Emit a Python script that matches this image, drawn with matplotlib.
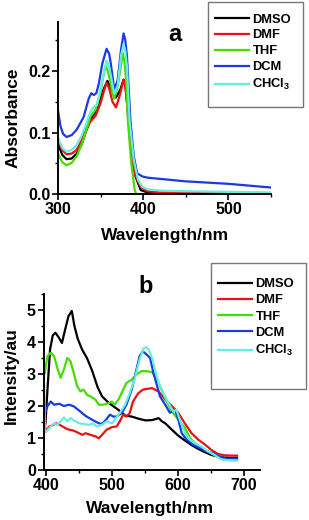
import matplotlib
matplotlib.use("Agg")
import matplotlib.pyplot as plt
from matplotlib.patches import Rectangle
from matplotlib.ticker import MultipleLocator, FormatStrFormatter

plt.rcParams['font.family'] = ['Liberation Sans', 'DejaVu Sans']
plt.rcParams['font.weight'] = 'bold'
plt.rcParams['mathtext.fontset'] = 'custom'
plt.rcParams['mathtext.rm'] = 'Liberation Sans:bold'
plt.rcParams['mathtext.bf'] = 'Liberation Sans:bold'
plt.rcParams['mathtext.it'] = 'Liberation Sans:bold'

solvents = ['DMSO', 'DMF', 'THF', 'DCM', r'CHCl$_3$']
colors = ['#000000', '#ee1111', '#44dd00', '#1a3ae6', '#66eee0']

# ---- panel a: absorbance ----
wl_dmso_a = [300,305,310,316,322,328,332,338,344,350,354,358,361,364,368,373,377,379,382,386,391,397,405,420,450,500,550]
abs_dmso = [0.082,0.064,0.057,0.058,0.066,0.082,0.099,0.12,0.134,0.155,0.172,0.184,0.176,0.163,0.157,0.169,0.186,0.178,0.136,0.072,0.029,0.007,0.003,0.002,0.001,0.001,0.001]
wl_dmf_a = [300,305,310,316,322,328,332,338,344,350,354,357,360,364,368,372,377,379,381,385,390,397,405,420,450,500,550]
abs_dmf = [0.088,0.072,0.065,0.066,0.072,0.088,0.104,0.118,0.127,0.148,0.168,0.181,0.172,0.150,0.141,0.158,0.186,0.175,0.147,0.082,0.034,0.012,0.005,0.003,0.002,0.001,0.001]
wl_thf_a = [300,305,310,316,322,328,332,338,344,350,353,356,359,361,364,366,370,374,376,378,380,382,386,390,393]
abs_thf = [0.066,0.052,0.047,0.051,0.062,0.082,0.098,0.126,0.137,0.166,0.19,0.209,0.198,0.185,0.163,0.155,0.174,0.21,0.229,0.215,0.185,0.12,0.05,0.007,-0.003]
wl_dcm_a = [300,303,306,310,316,322,330,336,339,342,345,348,352,357,360,362,366,370,374,377,379,381,385,389,393,399,405,420,450,500,550]
abs_dcm = [0.136,0.11,0.098,0.093,0.096,0.105,0.125,0.155,0.164,0.161,0.164,0.18,0.212,0.236,0.228,0.212,0.17,0.185,0.235,0.261,0.25,0.223,0.12,0.061,0.034,0.029,0.027,0.025,0.021,0.017,0.011]
wl_chcl3_a = [300,305,310,316,322,328,332,338,342,346,349,352,357,360,362,366,370,374,377,379,381,384,389,394,399,405,420,450,500,550]
abs_chcl3 = [0.093,0.075,0.069,0.072,0.080,0.096,0.11,0.134,0.142,0.145,0.165,0.185,0.217,0.207,0.193,0.163,0.176,0.225,0.244,0.232,0.206,0.12,0.055,0.023,0.012,0.008,0.006,0.005,0.004,0.003]

# ---- panel b: emission ----
wl_dmso_b = [396,399,402,406,410,414,419,424,429,434,439,443,448,455,462,470,478,485,495,505,513,520,530,541,551,561,571,576,581,591,601,611,621,631,641,651,661,671,681,690]
int_dmso = [2.1,1.46,2.5,3.77,4.2,4.29,4.15,3.97,4.4,4.81,4.97,4.5,4.1,3.75,3.5,3.1,2.6,2.3,2.1,1.95,1.83,1.7,1.67,1.6,1.55,1.56,1.62,1.52,1.46,1.26,1.07,0.92,0.78,0.66,0.56,0.47,0.42,0.39,0.38,0.38]
wl_dmf_b = [396,399,405,410,415,420,425,430,435,440,445,450,455,460,467,475,480,485,492,500,507,512,517,522,527,532,540,547,552,561,571,581,591,601,611,621,631,641,651,661,671,683,690]
int_dmf = [2.6,1.2,1.36,1.4,1.46,1.42,1.36,1.3,1.26,1.24,1.2,1.15,1.1,1.15,1.1,1.05,0.99,1.1,1.26,1.34,1.36,1.52,1.73,1.67,1.78,2.14,2.4,2.51,2.53,2.56,2.45,2.2,2.0,1.78,1.45,1.15,0.95,0.8,0.63,0.5,0.46,0.45,0.45]
wl_thf_b = [396,398,402,407,412,417,422,427,432,437,442,447,452,457,462,467,475,480,487,495,500,504,510,517,522,530,537,545,552,561,571,581,591,601,611,619,626,636,646,656,666,679,690]
int_thf = [3.3,3.03,3.56,3.66,3.56,3.19,2.88,3.14,3.5,3.4,3.03,2.62,2.46,2.51,2.35,2.3,2.2,2.04,2.04,2.09,2.14,2.04,2.2,2.51,2.72,2.82,2.98,3.09,3.09,3.06,2.72,2.23,1.83,1.57,1.31,0.99,0.84,0.68,0.58,0.47,0.37,0.31,0.3]
wl_dcm_b = [396,398,402,407,412,420,427,435,442,450,460,470,480,485,491,497,502,507,515,522,530,536,542,547,552,558,563,568,573,581,588,596,601,606,614,624,634,644,654,664,674,690]
int_dcm = [2.1,1.78,1.99,2.14,2.04,2.07,2.0,2.04,1.99,1.86,1.69,1.57,1.46,1.44,1.57,1.73,1.67,1.67,1.78,2.04,2.51,3.03,3.56,3.71,3.62,3.5,3.04,2.67,2.3,2.04,1.79,1.88,1.57,1.15,0.94,0.78,0.68,0.58,0.52,0.42,0.35,0.35]
wl_chcl3_b = [396,398,400,407,412,417,422,427,432,437,442,450,457,465,471,477,485,492,500,506,512,520,527,535,542,548,552,556,561,566,571,578,586,593,598,603,611,619,626,636,646,656,666,676,690]
int_chcl3 = [4.1,1.2,1.2,1.36,1.46,1.41,1.52,1.64,1.52,1.62,1.55,1.46,1.44,1.41,1.46,1.36,1.41,1.52,1.46,1.62,1.78,2.04,2.4,2.88,3.45,3.8,3.84,3.75,3.5,3.09,2.72,2.41,2.09,1.83,1.88,1.57,1.15,0.94,0.84,0.73,0.58,0.47,0.33,0.31,0.3]

W, H = 309, 520
fig = plt.figure(figsize=(W/100, H/100), dpi=100)

def style(ax):
    for s in ['top', 'right']:
        ax.spines[s].set_visible(False)
    for s in ['left', 'bottom']:
        ax.spines[s].set_linewidth(1.4)
    ax.tick_params(which='major', direction='out', length=4, width=1.2, labelsize=11.5, pad=1.5)
    ax.tick_params(which='minor', direction='out', length=2.5, width=1.0)
    for lab in ax.get_xticklabels() + ax.get_yticklabels():
        lab.set_fontweight('bold')

# panel a
axa = fig.add_axes([58/W, 1-194.3/H, 213/W, 172.6/H])
series_a = [(wl_dmso_a, abs_dmso), (wl_dmf_a, abs_dmf), (wl_thf_a, abs_thf), (wl_dcm_a, abs_dcm), (wl_chcl3_a, abs_chcl3)]
handles = []
for (x, y), c, lab in zip(series_a, colors, solvents):
    h, = axa.plot(x, y, color=c, lw=1.6, label=lab)
    handles.append(h)
axa.set_xlim(300, 550)
axa.set_ylim(0, 0.28)
axa.xaxis.set_major_locator(MultipleLocator(100))
axa.xaxis.set_minor_locator(MultipleLocator(50))
axa.yaxis.set_major_locator(MultipleLocator(0.1))
axa.yaxis.set_minor_locator(MultipleLocator(0.05))
axa.yaxis.set_major_formatter(FormatStrFormatter('%.1f'))
style(axa)
axa.set_xlabel('Wavelength/nm', fontsize=12.5, fontweight='bold', va='center')
axa.xaxis.set_label_coords(0.502, -0.236)
axa.set_ylabel('Absorbance', fontsize=12.5, fontweight='bold', va='center')
axa.yaxis.set_label_coords(-0.211, 0.442)
fig.text(175/W, 1-40.7/H, 'a', fontsize=17, fontweight='bold', ha='center', va='baseline')

# panel b
axb = fig.add_axes([43.5/W, 1-470/H, 216.5/W, 176/H])
series_b = [(wl_dmso_b, int_dmso), (wl_dmf_b, int_dmf), (wl_thf_b, int_thf), (wl_dcm_b, int_dcm), (wl_chcl3_b, int_chcl3)]
handles_b = []
for (x, y), c, lab in zip(series_b, colors, solvents):
    h, = axb.plot(x, y, color=c, lw=1.6, label=lab)
    handles_b.append(h)
axb.set_xlim(396, 725)
axb.set_ylim(0, 5.5)
axb.xaxis.set_major_locator(MultipleLocator(100))
axb.xaxis.set_minor_locator(MultipleLocator(50))
axb.yaxis.set_major_locator(MultipleLocator(1))
axb.yaxis.set_minor_locator(MultipleLocator(0.5))
style(axb)
axb.set_xlabel('Wavelength/nm', fontsize=12.5, fontweight='bold', va='center')
axb.xaxis.set_label_coords(0.492, -0.216)
axb.set_ylabel('Intensity/au', fontsize=12.5, fontweight='bold', va='center')
axb.yaxis.set_label_coords(-0.150, 0.534)
fig.text(146/W, 1-293/H, 'b', fontsize=17, fontweight='bold', ha='center', va='baseline')

# legend frames
fig.patches.append(Rectangle((208/W, 1-107/H), 95/W, 105/H, transform=fig.transFigure,
                             fill=False, edgecolor='#777777', lw=1.0))
fig.patches.append(Rectangle((211/W, 1-389/H), 95/W, 126/H, transform=fig.transFigure,
                             fill=False, edgecolor='#777777', lw=1.0))

leg_kw = dict(loc='upper left', frameon=False, borderpad=0, borderaxespad=0,
              handlelength=2.6, handletextpad=0.3,
              prop={'size': 9.3, 'weight': 'bold'}, bbox_transform=fig.transFigure)
fig.legend(handles=handles, labels=solvents, bbox_to_anchor=(215/W, 1-13.5/H), labelspacing=0.3, **leg_kw)
fig.legend(handles=handles_b, labels=solvents, bbox_to_anchor=(218/W, 1-278/H), labelspacing=0.33, **leg_kw)

fig.savefig('out.png', dpi=100)
